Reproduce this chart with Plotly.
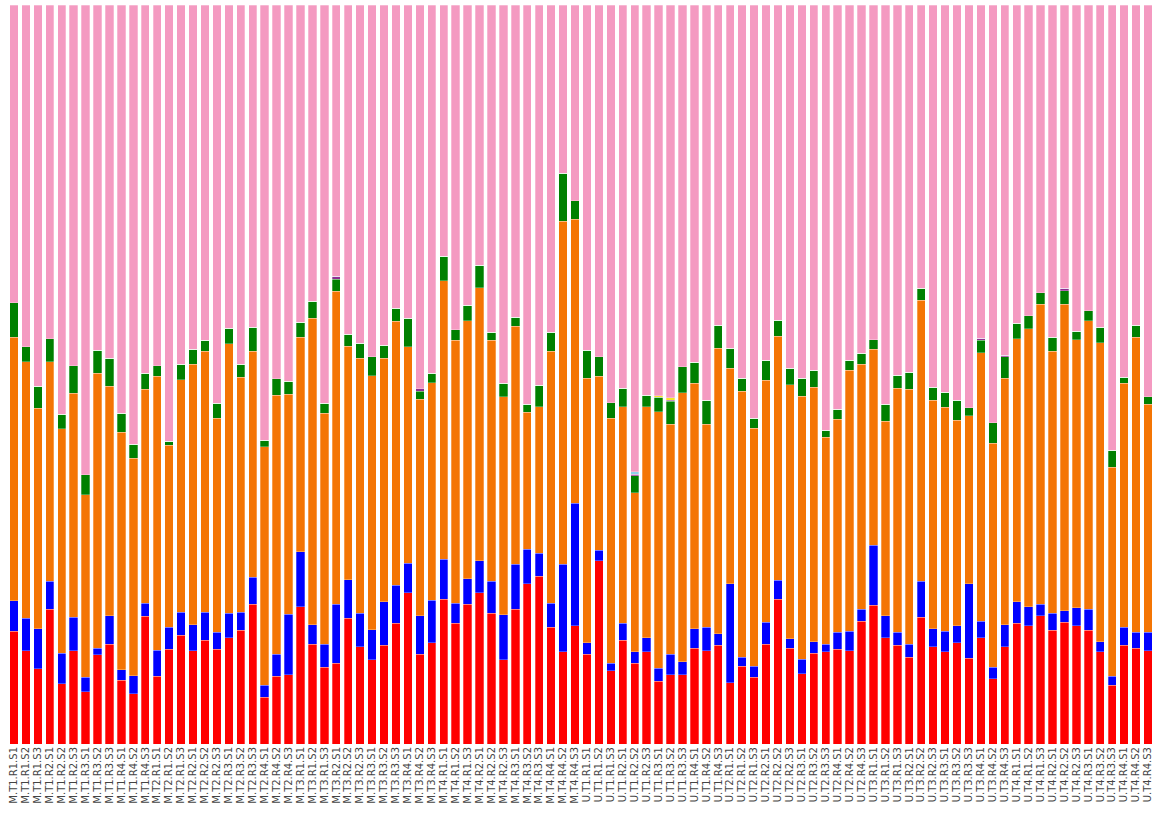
import itertools
import plotly.graph_objects as go

# Sample labels: site . treatment . replicate . subsample
samples = [f"{s}.{t}.{r}.{n}" for s, t, r, n in itertools.product(
    ["M", "U"], ["T1", "T2", "T3", "T4"], ["R1", "R2", "R3", "R4"], ["S1", "S2", "S3"])]

# Relative abundance (%) per group, bottom to top of each stack
red = [15.25, 12.62, 10.19, 18.22, 8.12, 12.62, 7.08, 12.08, 13.53, 8.66, 6.77, 17.32,
       9.20, 12.81, 14.71, 12.62, 14.03, 12.81, 14.38, 15.42, 18.90, 6.36, 9.16, 9.34,
       18.54, 13.53, 10.38, 10.92, 17.01, 13.16, 11.41, 13.35, 16.33, 20.47, 12.14, 13.67,
       19.62, 16.33, 18.90, 20.47, 17.68, 11.41, 18.22, 21.69, 22.73, 15.79, 12.49, 15.97,
       12.14, 24.80, 9.88, 14.03, 10.92, 12.49, 8.48, 9.34, 9.34, 12.99, 12.62, 13.35,
       8.29, 10.55, 9.02, 13.53, 19.62, 12.99, 9.51, 12.31, 12.49, 12.81, 12.62, 16.64,
       18.77, 14.38, 13.35, 11.77, 17.18, 13.16, 12.49, 13.71, 11.60, 14.38, 8.84, 13.16,
       16.33, 15.97, 17.36, 15.42, 16.47, 15.97, 15.42, 12.49, 7.94, 13.35, 12.99, 12.62]
blue = [4.14, 4.38, 5.41, 3.83, 4.15, 4.56, 1.95, 0.91, 3.83, 1.39, 2.44, 1.76,
        3.48, 3.02, 3.15, 3.52, 3.83, 2.30, 3.34, 2.44, 3.65, 1.62, 2.98, 8.21,
        7.48, 2.61, 3.15, 8.02, 5.22, 4.56, 4.02, 5.90, 5.18, 4.02, 5.22, 5.78,
        5.37, 2.75, 3.46, 4.33, 4.37, 6.09, 6.09, 4.69, 3.11, 3.29, 11.83, 16.64,
        1.53, 1.41, 1.04, 2.30, 1.57, 1.89, 1.76, 2.80, 1.76, 2.61, 3.17, 1.57,
        13.39, 1.22, 1.53, 2.94, 2.57, 1.22, 1.95, 1.53, 1.04, 2.30, 2.62, 1.58,
        8.12, 2.98, 1.76, 1.76, 4.87, 2.44, 2.76, 2.26, 10.09, 2.26, 1.54, 2.98,
        2.92, 2.61, 1.58, 2.26, 1.57, 2.44, 2.80, 1.35, 1.22, 2.44, 2.12, 2.49]
orange = [35.64, 34.72, 29.86, 29.67, 30.39, 30.31, 24.67, 37.17, 31.04, 32.12, 29.45, 28.95,
          37.11, 24.58, 31.43, 35.23, 35.27, 28.95, 36.44, 31.80, 30.58, 32.24, 35.04, 29.81,
          29.05, 41.50, 31.25, 42.35, 31.62, 34.50, 34.37, 32.97, 35.72, 29.27, 29.32, 29.44,
          37.69, 35.58, 34.91, 36.94, 32.61, 29.50, 32.24, 18.54, 19.79, 34.05, 46.45, 38.43,
          35.81, 23.58, 33.15, 29.31, 21.51, 31.25, 34.72, 31.12, 36.44, 33.20, 27.47, 38.66,
          29.18, 35.99, 32.16, 32.78, 33.01, 34.37, 35.62, 34.46, 28.01, 28.86, 35.35, 33.19,
          26.56, 26.34, 33.05, 34.50, 38.02, 30.94, 30.35, 27.87, 22.73, 36.30, 30.35, 33.34,
          35.58, 37.61, 40.59, 35.45, 41.50, 36.26, 39.05, 40.45, 28.32, 33.01, 39.91, 30.89]
green = [4.68, 2.03, 2.94, 3.11, 1.95, 3.69, 2.71, 3.11, 3.83, 2.57, 1.93, 2.12,
         1.39, 0.54, 2.08, 2.07, 1.53, 2.07, 2.08, 1.72, 3.29, 0.87, 2.25, 1.76,
         2.03, 2.30, 1.35, 1.62, 1.62, 2.03, 2.57, 1.76, 1.76, 3.84, 1.08, 1.27,
         3.34, 1.39, 2.12, 3.03, 1.08, 1.81, 1.22, 1.04, 2.94, 2.61, 6.49, 2.44,
         3.83, 2.61, 2.11, 2.49, 2.30, 1.58, 1.95, 3.15, 3.48, 2.88, 3.29, 3.11,
         2.71, 1.76, 1.35, 2.71, 2.16, 2.30, 2.44, 2.30, 0.95, 1.35, 1.35, 1.49,
         1.22, 2.30, 1.76, 2.30, 1.62, 1.76, 2.03, 2.71, 1.08, 1.72, 2.71, 2.92,
         2.08, 1.76, 1.53, 1.89, 1.76, 1.18, 1.35, 2.08, 2.30, 0.81, 1.66, 0.99]
purple = [0, 0, 0, 0, 0, 0, 0, 0, 0, 0, 0, 0,
          0, 0, 0, 0, 0, 0, 0, 0, 0, 0, 0, 0,
          0, 0, 0, 0.41, 0, 0, 0, 0, 0, 0, 0.31, 0,
          0, 0, 0, 0, 0, 0, 0, 0, 0, 0, 0, 0,
          0, 0, 0, 0, 0.19, 0, 0, 0.14, 0, 0, 0, 0,
          0, 0, 0, 0, 0, 0, 0, 0, 0, 0, 0, 0,
          0, 0, 0, 0, 0, 0, 0, 0, 0, 0.23, 0, 0.19,
          0, 0, 0, 0, 0.37, 0, 0, 0, 0, 0, 0, 0]
yellow = [0, 0, 0, 0, 0, 0, 0, 0, 0, 0, 0, 0,
          0, 0, 0, 0, 0, 0, 0, 0, 0, 0, 0, 0,
          0, 0, 0, 0, 0, 0, 0, 0, 0, 0, 0, 0,
          0, 0, 0, 0, 0, 0, 0, 0, 0, 0, 0, 0,
          0, 0, 0, 0, 0, 0, 0.22, 0.31, 0, 0, 0, 0,
          0, 0, 0, 0, 0, 0, 0, 0, 0, 0, 0, 0,
          0, 0, 0, 0, 0, 0, 0, 0, 0, 0, 0, 0,
          0, 0, 0, 0, 0, 0, 0, 0, 0, 0, 0, 0]
lightblue = [0, 0, 0, 0, 0, 0, 0, 0, 0, 0, 0, 0,
             0, 0, 0, 0, 0, 0, 0, 0, 0, 0, 0, 0,
             0, 0, 0, 0, 0, 0, 0, 0, 0, 0, 0, 0,
             0, 0, 0, 0, 0, 0, 0, 0, 0, 0, 0, 0,
             0, 0, 0, 0, 0.35, 0, 0, 0, 0, 0, 0, 0,
             0, 0, 0, 0, 0, 0, 0, 0, 0, 0, 0, 0,
             0, 0, 0, 0, 0, 0, 0, 0, 0, 0, 0, 0,
             0, 0, 0, 0, 0, 0, 0, 0, 0, 0, 0, 0]
pink = [40.28, 46.23, 51.59, 45.15, 55.38, 48.80, 63.59, 46.72, 47.76, 55.24, 59.40, 49.83,
        48.80, 59.03, 48.61, 46.54, 45.33, 53.85, 43.74, 48.61, 43.57, 58.90, 50.56, 50.87,
        42.89, 40.05, 53.85, 36.67, 44.51, 45.73, 47.63, 46.00, 41.00, 42.39, 51.91, 49.83,
        33.96, 43.93, 40.59, 35.22, 44.24, 51.18, 42.21, 54.03, 51.41, 44.24, 22.73, 26.52,
        46.68, 47.59, 53.81, 51.86, 63.15, 52.77, 52.86, 53.13, 48.98, 48.30, 53.44, 43.30,
        46.41, 50.47, 55.92, 48.03, 42.62, 49.11, 50.47, 49.38, 57.50, 54.66, 48.03, 47.08,
        45.33, 53.98, 50.06, 49.66, 38.29, 51.68, 52.36, 53.44, 54.49, 45.10, 56.56, 47.40,
        43.07, 42.04, 38.93, 44.96, 38.33, 44.15, 41.36, 43.61, 60.21, 50.37, 43.30, 53.00]

groups = [
    ("red", red, "#ff0000"),
    ("blue", blue, "#0000ff"),
    ("orange", orange, "#f47504"),
    ("green", green, "#008000"),
    ("purple", purple, "#8e2d92"),
    ("yellow", yellow, "#f5e62a"),
    ("lightblue", lightblue, "#8fd3ea"),
    ("pink", pink, "#f49ac1"),
]

fig = go.Figure()
for name, vals, col in groups:
    fig.add_trace(go.Bar(
        x=samples, y=vals, name=name,
        marker=dict(color=col, line=dict(color="rgba(255,255,255,0.35)", width=0.8)),
    ))

fig.update_layout(
    barmode="stack",
    bargap=0.3,
    width=1160, height=816,
    margin=dict(l=8, r=6, t=5, b=72),
    paper_bgcolor="white",
    plot_bgcolor="white",
    showlegend=False,
    font=dict(family="DejaVu Sans", color="#444444"),
)
fig.update_xaxes(
    tickmode="array", tickvals=samples, ticktext=samples,
    tickangle=-90, tickfont=dict(size=10, color="#444444"),
    showgrid=False, zeroline=False, showline=False, ticks="",
    range=[-0.5, len(samples) - 0.5],
)
fig.update_yaxes(
    range=[0, 100], visible=False, showgrid=False, zeroline=False,
)

fig.write_html("out.html")
